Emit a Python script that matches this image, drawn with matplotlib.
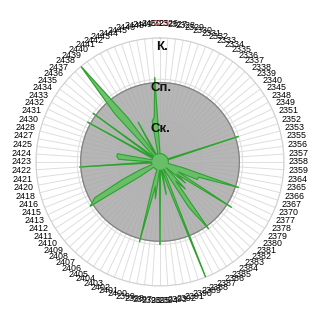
import numpy as np
import matplotlib
matplotlib.use("Agg")
import matplotlib.pyplot as plt

categories = (
    ["2325", "2326", "2327", "2328", "2329", "2330", "2331", "2332", "2333", "2334"]
    + ["2335", "2336", "2337", "2338", "2339", "2340", "2345", "2348", "2349", "2351",
       "2352", "2353", "2355", "2356", "2357", "2358", "2359", "2364"]
    + ["2365", "2366", "2367", "2370", "2377", "2378", "2379", "2380", "2381", "2382",
       "2383", "2384", "2385", "2386", "2387", "2388"]
    + ["2389", "2390", "2391", "2392", "2393", "2394", "2395", "2396", "2397", "2398",
       "2399", "2400", "2401", "2402"]
    + ["2403", "2404", "2405", "2406", "2407", "2408", "2409", "2410", "2411", "2412",
       "2413", "2415", "2416", "2418", "2420", "2421", "2422", "2423", "2424", "2425"]
    + ["2427", "2428", "2430", "2431", "2432", "2433", "2434", "2435", "2436", "2437",
       "2438", "2439", "2440"]
    + ["2441", "2442", "2443", "2444", "2445", "2446", "2448", "2449", "2450"]
)

# level scale labels
level_values = [1, 2, 3]
level_labels = ["Ск.", "Сп.", "К."]

# gray series (reference level)
gray_values = [1.92] * 100

# green series
green_values = [0.2] * 100
spikes = {
    20: 2.0, 29: 0.6, 30: 2.0, 31: 1.0, 32: 1.0, 33: 0.5, 34: 2.05, 35: 0.5,
    36: 0.8, 38: 0.9, 39: 0.6, 40: 2.0, 41: 1.3, 44: 3.0, 45: 0.6, 47: 0.8,
    50: 2.0, 52: 0.9, 53: 0.6, 54: 2.0, 55: 0.5,
    65: 0.6, 66: 2.0, 67: 1.8, 68: 1.0, 69: 0.5, 74: 1.95, 76: 1.0, 77: 1.05,
    78: 1.05, 83: 2.0, 85: 2.0, 88: 1.6, 89: 3.0, 90: 1.3, 92: 1.1,
    97: 1.0, 98: 1.1, 99: 2.05,
}
for k, v in spikes.items():
    green_values[k] = v

n = len(categories)
angles = np.arange(n) * 2 * np.pi / n
ang_c = np.concatenate([angles, angles[:1]])

fig = plt.figure(figsize=(3.2, 3.2), dpi=100)
r = 0.3875
ax = fig.add_axes([0.5 - r, 0.494 - r, 2 * r, 2 * r], projection="polar")
ax.set_theta_zero_location("N")
ax.set_theta_direction(-1)
ax.set_ylim(0, 3.0)

gv = np.concatenate([gray_values, gray_values[:1]])
ax.fill(ang_c, gv, color="#a9a9a9", alpha=0.85, zorder=2)
ax.plot(ang_c, gv, color="#808080", lw=0.8, zorder=3)

grv = np.concatenate([green_values, green_values[:1]])
ax.fill(ang_c, grv, color="#62c062", alpha=0.9, zorder=4)
ax.plot(ang_c, grv, color="#2f9e2f", lw=0.7, zorder=5)

ax.set_xticks(angles)
ax.set_xticklabels(categories, family="Liberation Sans", fontsize=6.4)
ax.get_xticklabels()[0].set_color("#c00000")
ax.tick_params(axis="x", pad=0)
ax.set_yticks(level_values)
ax.set_yticklabels([])
ax.grid(True, color="#dedede", lw=0.7)
ax.spines["polar"].set_color("#d0d0d0")
ax.spines["polar"].set_linewidth(0.8)

for v, lab in zip(level_values, level_labels):
    ax.text(0.02, v - 0.21, lab, ha="center", va="center", fontsize=9.5,
            fontweight="bold", family="Liberation Sans", color="#111111", zorder=6)

fig.savefig("out.png", dpi=100)
